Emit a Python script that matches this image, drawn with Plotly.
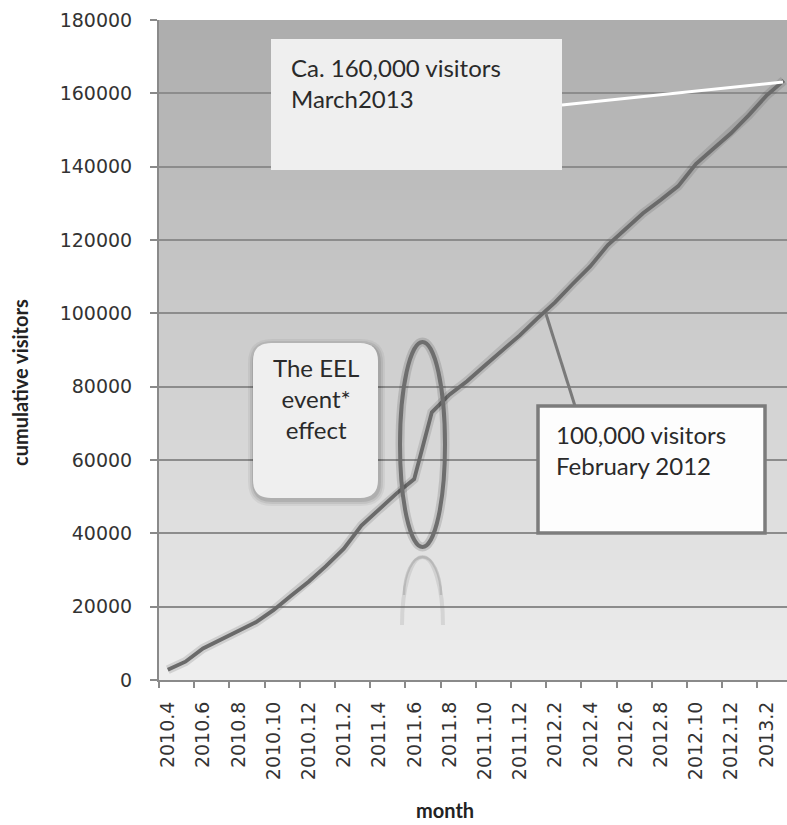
import plotly.graph_objects as go

# ---------------- data ----------------
months = [
    "2010.4", "2010.5", "2010.6", "2010.7", "2010.8", "2010.9", "2010.10", "2010.11", "2010.12",
    "2011.1", "2011.2", "2011.3", "2011.4", "2011.5", "2011.6", "2011.7", "2011.8", "2011.9",
    "2011.10", "2011.11", "2011.12", "2012.1", "2012.2", "2012.3", "2012.4", "2012.5", "2012.6",
    "2012.7", "2012.8", "2012.9", "2012.10", "2012.11", "2012.12", "2013.1", "2013.2", "2013.3",
]
visitors = [
    2800, 5000, 8600, 11100, 13350, 15750, 19050, 23000, 26800,
    31100, 35800, 42100, 46500, 50900, 54800, 73000, 77800, 81500,
    85700, 89800, 94000, 98600, 103000, 108000, 112800, 118600, 123100,
    127300, 130900, 134700, 140700, 145000, 149100, 154000, 159300, 163500,
]
tick_labels = months[::2]
y_ticks = [0, 20000, 40000, 60000, 80000, 100000, 120000, 140000, 160000, 180000]

note_top = "Ca. 160,000 visitors<br>March2013"
note_mid = "100,000 visitors<br>February 2012"
note_eel = "The EEL<br>event*<br>effect"

# ---------------- layout helpers ----------------
W, H = 787, 825
L, R, T, B = 159, 0, 20, 145
PW = W - L - R
PH = H - T - B
CAT_W = 17.6


def px(x):
    return (x - L) / PW


def py(y):
    return (H - B - y) / PH


def rrect_path(x0, y0, x1, y1, r):
    pts = [
        ("M", [(x0 + r, y0)]),
        ("L", [(x1 - r, y0)]),
        ("Q", [(x1, y0), (x1, y0 + r)]),
        ("L", [(x1, y1 - r)]),
        ("Q", [(x1, y1), (x1 - r, y1)]),
        ("L", [(x0 + r, y1)]),
        ("Q", [(x0, y1), (x0, y1 - r)]),
        ("L", [(x0, y0 + r)]),
        ("Q", [(x0, y0), (x0 + r, y0)]),
    ]
    s = ""
    for cmd, ps in pts:
        s += cmd + " " + " ".join(f"{px(a):.5f},{py(b):.5f}" for a, b in ps) + " "
    return s + "Z"


x_idx = list(range(len(months)))

fig = go.Figure()
fig.add_trace(go.Scatter(
    x=x_idx, y=visitors, mode="lines",
    line=dict(color="rgba(60,60,60,0.16)", width=9),
    hoverinfo="skip", showlegend=False,
))
fig.add_trace(go.Scatter(
    x=x_idx, y=visitors, mode="lines", text=months,
    line=dict(color="#6a6a6a", width=3.8),
    showlegend=False,
))

shapes = []
# gradient background
n = 66
for k in range(n):
    f = (k + 0.5) / n
    c = int(round(173 + (238 - 173) * f))
    shapes.append(dict(
        type="rect", xref="paper", yref="paper", x0=0, x1=1,
        y0=1 - (k + 1) / n - 0.002, y1=1 - k / n,
        fillcolor=f"rgb({c},{c},{c})", line_width=0, layer="below",
    ))

# top box "Ca. 160,000"
shapes.append(dict(type="rect", xref="paper", yref="paper",
                   x0=px(271), x1=px(562), y0=py(170), y1=py(39),
                   fillcolor="#efefef", line_width=0))
shapes.append(dict(type="line", xref="paper", yref="paper",
                   x0=px(562), y0=py(105), x1=px(783), y1=py(82),
                   line=dict(color="#ffffff", width=3)))

# 100,000 box + pointer
shapes.append(dict(type="line", xref="paper", yref="paper",
                   x0=px(546), y0=py(314), x1=px(575), y1=py(406),
                   line=dict(color="#7a7a7a", width=3)))
shapes.append(dict(type="rect", xref="paper", yref="paper",
                   x0=px(538), x1=px(765), y0=py(533), y1=py(406),
                   fillcolor="#fdfdfd", line=dict(color="#7c7c7c", width=3.5)))

# EEL rounded box with soft shadow
for grow, alpha in [(6, 0.05), (4, 0.07), (2, 0.09)]:
    shapes.append(dict(type="path", xref="paper", yref="paper",
                       path=rrect_path(253 - grow + 1, 343 - grow + 2, 378 + grow + 1, 498 + grow + 2, 18 + grow),
                       fillcolor=f"rgba(0,0,0,{alpha})", line_width=0))
shapes.append(dict(type="path", xref="paper", yref="paper",
                   path=rrect_path(253, 343, 378, 498, 18),
                   fillcolor="#efefef", line_width=0))

# ellipse highlight with shadow
shapes.append(dict(type="circle", xref="paper", yref="paper",
                   x0=px(400), x1=px(445), y0=py(547), y1=py(342),
                   line=dict(color="rgba(0,0,0,0.13)", width=9)))
shapes.append(dict(type="circle", xref="paper", yref="paper",
                   x0=px(400), x1=px(445), y0=py(547), y1=py(342),
                   line=dict(color="#6e6e6e", width=4)))


# faded reflection of the ellipse
def arc(x0, x1, ytop, ybot):
    xm = (x0 + x1) / 2
    rx = (x1 - x0) / 2
    ry = ybot - ytop
    k = 0.552
    return (f"M {px(x0):.5f},{py(ybot):.5f} "
            f"C {px(x0):.5f},{py(ybot - k * ry):.5f} {px(xm - k * rx):.5f},{py(ytop):.5f} {px(xm):.5f},{py(ytop):.5f} "
            f"C {px(xm + k * rx):.5f},{py(ytop):.5f} {px(x1):.5f},{py(ybot - k * ry):.5f} {px(x1):.5f},{py(ybot):.5f}")


shapes.append(dict(type="path", xref="paper", yref="paper",
                   path=arc(402, 443, 557, 625),
                   line=dict(color="rgba(110,110,110,0.16)", width=4)))
shapes.append(dict(type="path", xref="paper", yref="paper",
                   path=arc(404, 441, 557, 595),
                   line=dict(color="rgba(110,110,110,0.25)", width=2.5)))

annotations = [
    dict(text=note_top, xref="paper", yref="paper", x=px(289), y=py(83),
         xanchor="left", yanchor="middle", align="left", showarrow=False,
         font=dict(family="Lato", size=24, color="#2a2a2a")),
    dict(text=note_mid, xref="paper", yref="paper", x=px(554), y=py(450),
         xanchor="left", yanchor="middle", align="left", showarrow=False,
         font=dict(family="Lato", size=24, color="#2a2a2a")),
    dict(text=note_eel, xref="paper", yref="paper", x=px(316), y=py(398),
         xanchor="center", yanchor="middle", align="center", showarrow=False,
         font=dict(family="Lato", size=24, color="#2a2a2a")),
    dict(text="<b>cumulative visitors</b>", xref="paper", yref="paper",
         x=px(20), y=py(383), xanchor="center", yanchor="middle", textangle=-90,
         showarrow=False, font=dict(family="Lato", size=20, color="#222222")),
    dict(text="<b>month</b>", xref="paper", yref="paper",
         x=px(445), y=py(824), xanchor="center", yanchor="bottom",
         showarrow=False, font=dict(family="Lato", size=20, color="#222222")),
]

fig.update_layout(
    width=W, height=H,
    margin=dict(l=L, r=R, t=T, b=B, autoexpand=False),
    paper_bgcolor="#ffffff",
    plot_bgcolor="#d0d0d0",
    shapes=shapes,
    annotations=annotations,
    showlegend=False,
    xaxis=dict(
        range=[-0.5, -0.5 + PW / CAT_W],
        tickmode="array",
        tickvals=[i - 0.5 for i in range(0, len(months), 2)],
        ticktext=tick_labels,
        tickangle=-90,
        ticklabelshift=int(round(CAT_W / 2)),
        ticklabelstandoff=6,
        ticks="outside", ticklen=6, tickwidth=2, tickcolor="#8a8a8a",
        showline=True, linecolor="#8a8a8a", linewidth=2,
        showgrid=False, zeroline=False,
        tickfont=dict(family="DejaVu Sans", size=19, color="#333333"),
        automargin=False,
    ),
    yaxis=dict(
        range=[0, 180000],
        tickmode="array", tickvals=y_ticks,
        tickformat="d",
        ticks="outside", ticklen=7, tickwidth=2, tickcolor="#8a8a8a",
        ticklabelstandoff=14,
        showline=True, linecolor="#8a8a8a", linewidth=2,
        showgrid=True, gridcolor="#8c8c8c", gridwidth=2,
        zeroline=False,
        tickfont=dict(family="DejaVu Sans", size=19, color="#333333"),
        automargin=False,
    ),
)

fig.write_html("out.html")
